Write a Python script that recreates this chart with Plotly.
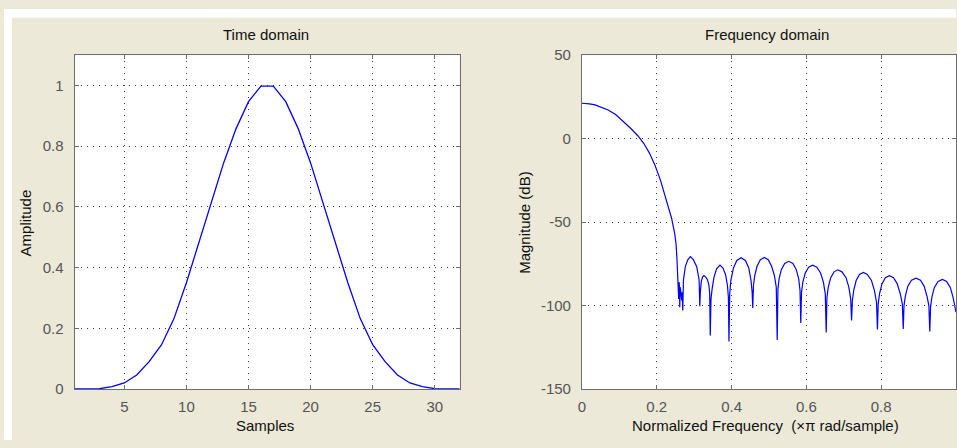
import plotly.graph_objects as go

# ---------------- data ----------------
samples = list(range(1, 33))
amplitude = [0.0, 0.0, 0.001, 0.008, 0.02, 0.046, 0.09, 0.146, 0.232, 0.35, 0.48,
             0.615, 0.745, 0.858, 0.947, 0.998, 0.998, 0.947, 0.858, 0.745, 0.615,
             0.48, 0.35, 0.232, 0.146, 0.09, 0.046, 0.02, 0.008, 0.001, 0.0, 0.0]

freq_norm = [
    0.000, 0.010, 0.020, 0.035, 0.050, 0.070, 0.090, 0.110, 0.130, 0.150, 0.165,
    0.180, 0.195, 0.210, 0.225, 0.240, 0.248, 0.2515, 0.254,
    0.2565, 0.2575, 0.2585, 0.2595, 0.2605, 0.2615, 0.2625, 0.2645, 0.2665, 0.2680, 0.2695,
    0.2713, 0.2763, 0.2832, 0.2900, 0.2978, 0.3068, 0.3132, 0.3150,
    0.3165, 0.3190, 0.3225, 0.3260, 0.3305, 0.3355, 0.3395, 0.3415, 0.3430,
    0.345, 0.348, 0.353, 0.360, 0.369, 0.377, 0.384, 0.389, 0.3915, 0.393,
    0.395, 0.398, 0.405, 0.414, 0.4255, 0.437, 0.446, 0.452, 0.455, 0.4566,
    0.4585, 0.462, 0.468, 0.477, 0.4875, 0.498, 0.507, 0.5145, 0.5195, 0.522,
    0.524, 0.527, 0.533, 0.542, 0.553, 0.564, 0.573, 0.5795, 0.583, 0.585,
    0.587, 0.5905, 0.597, 0.606, 0.617, 0.628, 0.638, 0.6455, 0.6505, 0.653,
    0.655, 0.6585, 0.665, 0.674, 0.684, 0.695, 0.706, 0.7135, 0.7185, 0.7208,
    0.723, 0.7265, 0.733, 0.742, 0.7525, 0.763, 0.774, 0.782, 0.7875, 0.790,
    0.792, 0.7955, 0.802, 0.811, 0.822, 0.833, 0.843, 0.851, 0.8565, 0.859,
    0.861, 0.8645, 0.871, 0.881, 0.893, 0.905, 0.915, 0.9225, 0.9275, 0.930,
    0.932, 0.9355, 0.942, 0.952, 0.9638, 0.975, 0.985, 0.992, 0.997, 1.000,
]
mag_db = [
    21.2, 21.1, 20.8, 20.2, 18.9, 17.2, 14.5, 10.6, 6.2, 1.6, -2.8,
    -8.5, -15.8, -25.0, -36.5, -48.0, -57.0, -63.0, -72.0,
    -83, -85, -96, -86, -88, -101, -89, -92, -97, -92, -103,
    -84.7, -76.7, -72.5, -70.7, -72.5, -76.7, -84.7, -100.4,
    -92, -85.5, -82.8, -82.0, -82.8, -84.5, -88, -93, -118,
    -96, -90, -83, -78, -75.8, -77.5, -81.5, -88, -95, -121.6,
    -93, -85, -77.5, -73, -71.3, -73, -77.5, -85, -92, -101.4,
    -88, -82, -76.5, -72.5, -71.2, -72.5, -76.5, -82, -89, -120.7,
    -90, -84, -78.5, -74.8, -73.5, -74.8, -78.5, -84, -91, -110.4,
    -92, -86, -80.5, -77, -75.8, -77, -80.5, -86, -93, -116.2,
    -95, -89, -83.3, -79.8, -78.6, -79.8, -83.3, -89, -96, -109,
    -97, -91, -85, -81.4, -80.2, -81.4, -85, -91, -98, -114.4,
    -99, -93, -87, -83.3, -82.1, -83.3, -87, -93, -99, -114.1,
    -100, -94.5, -88.5, -84.8, -83.6, -84.8, -88.5, -94.5, -100, -115.6,
    -101, -95, -89.3, -85.6, -84.4, -85.6, -89.3, -95, -102, -104,
]

time_xticks = [5, 10, 15, 20, 25, 30]
time_yticks = [0, 0.2, 0.4, 0.6, 0.8, 1]
time_yticklabels = ["0", "0.2", "0.4", "0.6", "0.8", "1"]
freq_xticks = [0, 0.2, 0.4, 0.6, 0.8]
freq_xticklabels = ["0", "0.2", "0.4", "0.6", "0.8"]
freq_yticks = [-150, -100, -50, 0, 50]
freq_yticklabels = ["-150", "-100", "-50", "0", "50"]

# ---------------- layout helpers ----------------
W, H = 957, 448
def px(x):
    return x / W
def py(y):
    return 1 - y / H

BG = "#ECE9D8"
FONT = "Liberation Sans, Arial, sans-serif"
TICKC = "#555555"
LINEC = "#6e6e6e"
GRIDC = "#3c3c3c"

fig = go.Figure()
fig.add_trace(go.Scatter(x=samples, y=amplitude, mode="lines",
                         line=dict(color="#0000FF", width=1.3),
                         xaxis="x", yaxis="y", showlegend=False))
fig.add_trace(go.Scatter(x=freq_norm, y=mag_db, mode="lines",
                         line=dict(color="#0000FF", width=1.2),
                         xaxis="x2", yaxis="y2", showlegend=False))

common = dict(showline=True, linecolor=LINEC, linewidth=1, mirror="ticks",
              ticks="inside", ticklen=4, tickcolor=LINEC, tickwidth=1,
              showgrid=True, gridcolor=GRIDC, gridwidth=1, griddash="1px,5px",
              zeroline=False, tickfont=dict(family=FONT, size=15, color=TICKC))
xcommon = dict(common, ticklabelstandoff=4)
ycommon = dict(common, ticklabelstandoff=7)

fig.update_layout(
    width=W, height=H, autosize=False,
    margin=dict(l=0, r=0, t=0, b=0, pad=0),
    paper_bgcolor=BG, plot_bgcolor="white",
    xaxis=dict(domain=[px(71), px(458)], range=[1, 32], tickvals=time_xticks,
               anchor="y", **xcommon),
    yaxis=dict(domain=[py(395), py(48)], range=[0, 1.1], tickvals=time_yticks,
               ticktext=time_yticklabels, anchor="x", **ycommon),
    xaxis2=dict(domain=[px(581), 1.0], range=[0, 1], tickvals=freq_xticks,
                ticktext=freq_xticklabels, anchor="y2", **xcommon),
    yaxis2=dict(domain=[py(395), py(48)], range=[-150, 50], tickvals=freq_yticks,
                ticktext=freq_yticklabels, anchor="x2", **ycommon),
    shapes=[
        dict(type="rect", xref="paper", yref="paper", x0=0, x1=px(8), y0=0, y1=1,
             fillcolor="white", line=dict(width=0), layer="below"),
        dict(type="rect", xref="paper", yref="paper", x0=0, x1=1, y0=py(9), y1=1,
             fillcolor="white", line=dict(width=0), layer="below"),
    ],
)

def label(text, x, y, angle=0):
    fig.add_annotation(text=text, x=px(x), y=py(y), xref="paper", yref="paper",
                       showarrow=False, textangle=angle, xanchor="center",
                       yanchor="middle",
                       font=dict(family=FONT, size=15, color="#111111"))

label("Time domain", 263, 27)
label("Frequency domain", 767, 27)
label("Samples", 262, 433)
label("Normalized Frequency  (×π rad/sample)", 765, 433)
label("Amplitude", 22, 222, -90)
label("Magnitude (dB)", 523, 222, -90)

fig.write_html("out.html", config={"displayModeBar": False})
